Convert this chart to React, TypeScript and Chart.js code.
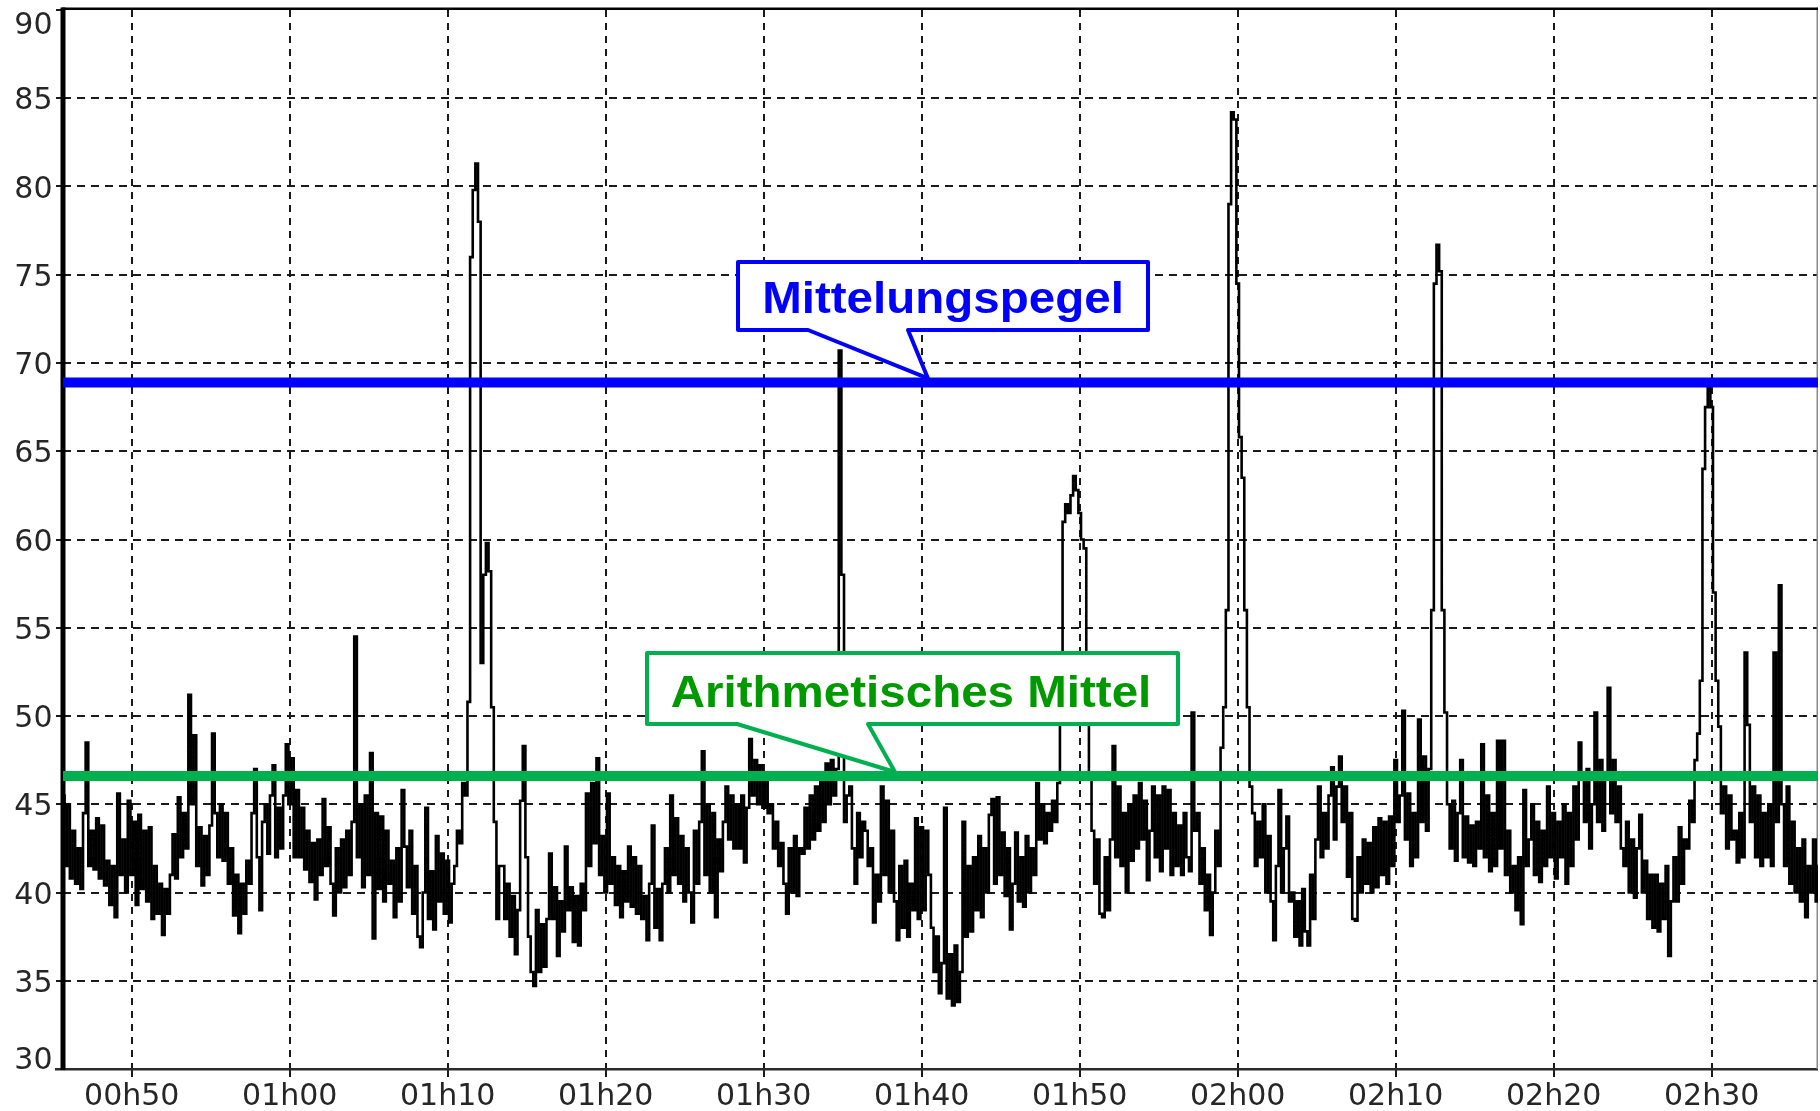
import React, { useEffect, useRef } from 'react';
import { Chart, registerables } from 'chart.js';

Chart.register(...registerables);

// ---- axes (time in minutes after midnight, level in dB) ----
const X_MIN = 45.65;
const X_MAX = 156.73;
const Y_MIN = 30;
const Y_MAX = 90;

const yTickValues = [30, 35, 40, 45, 50, 55, 60, 65, 70, 75, 80, 85, 90];
const xTickMinutes = [50, 60, 70, 80, 90, 100, 110, 120, 130, 140, 150];
const xTickLabels = ['00h50', '01h00', '01h10', '01h20', '01h30', '01h40', '01h50', '02h00', '02h10', '02h20', '02h30'];

// ---- reference levels ----
const MITTELUNGSPEGEL = 68.9;
const ARITHMETISCHES_MITTEL = 46.6;

// ---- sound level samples, one every 10 s, starting 00h45m30s ----
const SERIES_START = 45.5;
const SAMPLES_PER_MIN = 6;

const lp_0045 = [
  46.8, 45.5, 41.5, 45, 40.8, 43.5,
  40.5, 42.5, 40.2, 44.5, 48.5, 41.5,
  43.5, 41.3, 44.2, 40.8, 43.8, 40.4,
  41.8, 39.3, 41.5, 38.6, 45.6, 41,
  43, 40, 45.2, 41, 44, 39.3,
  44.4, 40.2, 43.5, 39.5, 43.7, 38.5,
  41.5, 38.8, 40.5, 37.6, 40.2, 38.8,
  41, 43.3, 40.8, 45.4, 42, 44.5,
  42.5, 51.2, 45, 48.9, 41.5, 43.7,
  40.4, 43.2, 41, 43.8, 49, 44.5,
];
const lp_0055 = [
  42, 45, 41.8, 44.5, 40.5, 42.5,
  38.7, 41, 37.7, 40.5, 38.8, 41.8,
  40.5, 44.5, 47, 42, 39, 44,
  45, 42.2, 45.5, 47.2, 42, 44.8,
  42.5, 45.5, 48.4, 45, 47.6, 42,
  45.8, 42, 44.8, 41.3, 43.5, 40.6,
  42.8, 39.6, 43, 41, 45.3, 41.5,
  43.7, 40.5, 38.7, 42.5, 40, 43,
  40.3, 43.5, 41, 44, 54.5, 42,
  45, 40.3, 45.5, 41, 47.9, 37.4,
];
const lp_0105 = [
  44.5, 40.2, 44.3, 39.5, 43.5, 40.5,
  41.8, 38.6, 42.5, 39.5, 45.8, 42.6,
  40.3, 43.5, 38.8, 41.5, 37.5, 36.9,
  40, 44.8, 38.5, 41.2, 37.9, 43.2,
  39.5, 42.2, 38.8, 41.8, 38.3, 40.5,
  41.5, 43.5, 42.8, 46.2, 45.5, 50.8,
  76, 79.8, 81.3, 78, 53, 58,
  59.8, 58.2, 50.5, 44, 38.5, 41.5,
  41.5, 38.5, 40.5, 37.5, 39.8, 36.5,
  39, 45.2, 48.3, 42, 37.5, 35.5,
];
const lp_0115 = [
  34.7, 39, 35.5, 38.2, 35.8, 38.5,
  42.2, 38.5, 40.3, 36.4, 39.5, 37.8,
  42.6, 39, 40.3, 37.2, 39.8, 37,
  40.5, 39, 45.6, 41.5, 46.2, 42.8,
  47.6, 41, 43.2, 40, 45.6, 40.5,
  42, 39.3, 41.5, 38.6, 41.2, 39.5,
  42.6, 39.2, 42, 38.8, 41.5, 38.5,
  39.8, 37.3, 40.5, 43.8, 38, 40.2,
  37.3, 40.5, 42.5, 40, 45.5, 41,
  44.2, 40.5, 43.2, 39.5, 42.5, 40,
];
const lp_0125 = [
  38.3, 43.5, 40.5, 44, 48, 41,
  45, 40, 44.5, 38.6, 43, 41.2,
  44, 46, 43, 45.5, 42.5, 45,
  42.5, 45.5, 41.7, 44.8, 48.7, 45.5,
  47.5, 45, 47.2, 44.8, 46.5, 44.5,
  45, 42.5, 44, 41.5, 42.8, 40.5,
  38.8, 42.5, 40, 43.2, 39.8, 42.5,
  42.2, 44.8, 42.5, 45.5, 43, 46,
  43.5, 46.8, 44, 47.3, 45, 47.5,
  45.5, 47, 70.7, 58, 44, 45.5,
];
const lp_0135 = [
  46, 42.5, 40.5, 44.5, 42, 44,
  43.5, 41.5, 42.5, 38.3, 41, 39.5,
  46, 41, 45.2, 40, 43.5, 39.5,
  37.3, 41.5, 38, 41.8, 37.5, 40.5,
  39, 44.2, 38.5, 43.7, 39, 43.5,
  41, 38, 35.5, 37.5, 34.3, 36,
  44.8, 34, 36.5, 33.6, 37, 33.8,
  35.5, 44, 37.5, 41.5, 37.8, 42,
  39, 43.2, 38.6, 42.5, 40, 44.4,
  45.3, 40.5, 45.4, 41, 43.4, 39.8,
];
const lp_0145 = [
  42.5, 37.9, 40.5, 43.4, 39.5, 42,
  39.2, 43.2, 40, 42.5, 41, 46.2,
  43, 45, 42.8, 44.5, 43.5, 45.2,
  44, 46.2, 50.5, 61, 62, 61.5,
  62.5, 63.6, 62.8, 61.5, 60, 59.5,
  50, 46.5, 43.5, 40.5, 43, 38.8,
  38.6, 42, 39, 43, 48.3, 42,
  46, 41.5, 44.5, 40, 45, 41.8,
  45.5, 42.5, 46.2, 43, 45.2, 40.7,
  43.5, 46, 42, 45.5, 41.2, 46,
];
const lp_0155 = [
  42.5, 45.8, 41, 44.5, 41.5, 43.8,
  41, 44.5, 42, 41.2, 50.2, 43.5,
  44.5, 40.5, 42.5, 39, 41, 37.6,
  40, 43.5, 41.5, 48.2, 50.5, 56,
  79, 84.2, 83.8, 74.5, 65.8, 63.5,
  56, 50.5, 46, 44.5, 41.5, 44,
  42, 45, 40, 43.2, 39.5, 37.3,
  41.5, 45.8, 40, 42.5, 44.3, 39.5,
  40, 37.5, 39.5, 37, 40.2, 37.8,
  37, 41, 38.5, 43, 46, 42,
];
const lp_0205 = [
  44.5, 42.5, 45.5, 47.1, 43, 46,
  47.7, 44, 46, 40.9, 44.5, 38.5,
  38.4, 42, 40, 43, 40.5, 42.8,
  40, 43.7, 40.3, 44.2, 41, 44,
  40.5, 44.3, 41.5, 47.5, 44, 45.5,
  50.3, 43, 45.6, 41.5, 44.5, 42,
  49.8, 44, 47.7, 43.5, 47, 56,
  74.5, 76.7, 75.2, 56, 50.2, 45,
  42.5, 45.2, 41.8, 44.5, 47.5, 42,
  44.3, 41.7, 43.8, 41.5, 44, 42.5,
];
const lp_0215 = [
  48.4, 42, 45.5, 41.2, 44.5, 41.5,
  48.6, 42.5, 48.6, 41, 43.5, 40,
  41.5, 39, 42, 38.2, 45.8, 41.5,
  43, 45, 41, 44, 40.6, 43.5,
  41.5, 46, 42, 44.5, 40.8, 44,
  42, 45, 40.5, 44.5, 41.5, 46,
  43, 48.5, 46.5, 44, 47, 42.5,
  45, 50.2, 44, 47.5, 43.5, 46.5,
  51.6, 44.5, 47.5, 44, 46, 42.5,
  41.5, 44, 40, 43, 39.7, 42.5,
];
const lp_0225 = [
  44.4, 40, 41.8, 38.5, 41, 38,
  41, 37.8, 40.5, 38.5, 41.5, 36.4,
  39.5, 42, 39.5, 43.7, 40.5, 43,
  42.5, 45.2, 44, 47.5, 49, 52,
  64, 67.5, 68.6, 67.5, 57, 52,
  49.4, 44.5, 46, 42.5, 45.5, 43,
  43.5, 41.7, 44.5, 42, 53.6, 49.5,
  44, 46, 42, 45.5, 41.5, 44.5,
  42, 45, 41.5, 53.6, 44, 57.4,
  45, 41.5, 46, 40.5, 44, 40,
];
const lp_0235 = [
  42.5, 39.5, 43, 38.6, 41.5, 40,
  43, 39.5, 41.5, 40, 42, 40,
];

// ---- styles ----
const LABEL_FONT = '30px "DejaVu Sans", Verdana, sans-serif';
const CALLOUT_FONT = 'bold 45px "Liberation Sans", Arial, sans-serif';
const GRID_COLOR = '#1a1a1a';

type Callout = {
  text: string;
  border: string;
  textColor: string;
  box: [number, number, number, number];
  base: [number, number];
  tipX: number;
  value: number;
  textX: number;
  baseline: number;
};

const calloutMittelungspegel: Callout = {
  text: 'Mittelungspegel',
  border: '#0000FF',
  textColor: '#0000FF',
  box: [738, 262, 1148, 330],
  base: [808, 908],
  tipX: 928,
  value: MITTELUNGSPEGEL,
  textX: 943,
  baseline: 313,
};

const calloutArithmetisch: Callout = {
  text: 'Arithmetisches Mittel',
  border: '#00B050',
  textColor: '#009A00',
  box: [647, 653, 1178, 724],
  base: [737, 868],
  tipX: 895,
  value: ARITHMETISCHES_MITTEL,
  textX: 911,
  baseline: 707,
};

function drawCallout(ctx: CanvasRenderingContext2D, c: Callout, tipY: number) {
  const [l, t, r, b] = c.box;
  ctx.save();
  ctx.beginPath();
  ctx.moveTo(l, t);
  ctx.lineTo(r, t);
  ctx.lineTo(r, b);
  ctx.lineTo(c.base[1], b);
  ctx.lineTo(c.tipX, tipY);
  ctx.lineTo(c.base[0], b);
  ctx.lineTo(l, b);
  ctx.closePath();
  ctx.fillStyle = '#ffffff';
  ctx.fill();
  ctx.lineWidth = 4;
  ctx.lineJoin = 'round';
  ctx.strokeStyle = c.border;
  ctx.stroke();
  ctx.font = CALLOUT_FONT;
  ctx.fillStyle = c.textColor;
  ctx.textAlign = 'center';
  ctx.textBaseline = 'alphabetic';
  ctx.translate(c.textX, c.baseline);
  ctx.scale(1.056, 1);
  ctx.fillText(c.text, 0, 0);
  ctx.restore();
}

const decorPlugin = {
  id: 'decor',
  beforeDatasetsDraw(chart: any) {
    const { ctx, chartArea: a } = chart;
    ctx.save();
    // bottom axis line
    ctx.fillStyle = '#2b2b2b';
    ctx.fillRect(a.left - 8, a.bottom - 1, a.right - a.left + 8, 2.5);
    // right border
    ctx.fillStyle = '#8a8a8a';
    ctx.fillRect(a.right - 1.5, a.top - 2.5, 1.5, a.bottom - a.top + 2.5);
    // top border
    ctx.fillStyle = '#000000';
    ctx.fillRect(a.left - 1, a.top - 2.5, a.right - a.left + 1, 2.5);
    // left axis (thick)
    ctx.fillRect(a.left - 2.5, a.top - 2.5, 5, a.bottom - a.top + 3.5);
    ctx.restore();
  },
  afterDraw(chart: any) {
    const { ctx, chartArea: a, scales } = chart;
    ctx.save();
    ctx.font = LABEL_FONT;
    ctx.fillStyle = '#262626';
    ctx.textBaseline = 'alphabetic';
    // y labels
    ctx.textAlign = 'right';
    yTickValues.forEach((v) => {
      const py = scales.y.getPixelForValue(v);
      const cy = Math.min(Math.max(py, a.top + 13), a.bottom - 11);
      ctx.fillText(String(v), 52.5, cy + 11);
    });
    // x labels
    ctx.textAlign = 'center';
    xTickMinutes.forEach((m, i) => {
      const px = scales.x.getPixelForValue(m);
      ctx.fillText(xTickLabels[i], px, a.bottom + 36);
    });
    ctx.restore();

    drawCallout(ctx, calloutMittelungspegel, scales.y.getPixelForValue(calloutMittelungspegel.value) - 4);
    drawCallout(ctx, calloutArithmetisch, scales.y.getPixelForValue(calloutArithmetisch.value) - 4);
  },
};

export default function App() {
  const ref = useRef<HTMLCanvasElement>(null);

  useEffect(() => {
    const canvas = ref.current;
    if (!canvas) return;

    const levels = [
      ...lp_0045, ...lp_0055, ...lp_0105, ...lp_0115, ...lp_0125, ...lp_0135,
      ...lp_0145, ...lp_0155, ...lp_0205, ...lp_0215, ...lp_0225, ...lp_0235,
    ];
    const trace = levels.map((v, i) => ({ x: SERIES_START + i / SAMPLES_PER_MIN, y: v }));
    const hLine = (v: number) => [{ x: X_MIN - 1, y: v }, { x: X_MAX + 1, y: v }];

    const chart = new Chart(canvas, {
      type: 'line',
      data: {
        datasets: [
          {
            data: trace,
            borderColor: '#000000',
            borderWidth: 2.6,
            borderJoinStyle: 'miter',
            stepped: 'middle',
            pointRadius: 0,
            fill: false,
            order: 3,
          },
          {
            data: hLine(ARITHMETISCHES_MITTEL),
            borderColor: '#00B050',
            borderWidth: 10,
            pointRadius: 0,
            fill: false,
            order: 2,
          },
          {
            data: hLine(MITTELUNGSPEGEL),
            borderColor: '#0000FF',
            borderWidth: 10,
            pointRadius: 0,
            fill: false,
            order: 1,
          },
        ],
      },
      options: {
        animation: false,
        responsive: false,
        devicePixelRatio: 1,
        events: [],
        layout: { padding: { top: 10, right: 2, left: 0, bottom: 0 } },
        plugins: { legend: { display: false }, tooltip: { enabled: false } },
        scales: {
          x: {
            type: 'linear',
            min: X_MIN,
            max: X_MAX,
            afterBuildTicks: (s: any) => {
              s.ticks = xTickMinutes.map((v) => ({ value: v }));
            },
            afterFit: (s: any) => {
              s.height = 42;
            },
            ticks: { display: false },
            grid: {
              color: GRID_COLOR,
              lineWidth: 2,
              drawTicks: true,
              tickLength: 8,
              tickWidth: 2,
              tickColor: GRID_COLOR,
            },
            border: { display: false, dash: [7, 6] },
          },
          y: {
            type: 'linear',
            min: Y_MIN,
            max: Y_MAX,
            afterBuildTicks: (s: any) => {
              s.ticks = yTickValues.map((v) => ({ value: v }));
            },
            afterFit: (s: any) => {
              s.width = 63;
            },
            ticks: { display: false },
            grid: {
              color: (c: any) =>
                c.tick && (c.tick.value === Y_MIN || c.tick.value === Y_MAX) ? 'rgba(0,0,0,0)' : GRID_COLOR,
              lineWidth: 2,
              drawTicks: true,
              tickLength: 7,
              tickWidth: 2,
              tickColor: GRID_COLOR,
            },
            border: { display: false, dash: [8, 6] },
          },
        },
      },
      plugins: [decorPlugin],
    } as any);

    return () => chart.destroy();
  }, []);

  return (
    <div style={{ position: 'fixed', left: 0, top: 0, width: 1820, height: 1111, background: '#ffffff' }}>
      <canvas ref={ref} width={1820} height={1111} style={{ display: 'block', width: 1820, height: 1111 }} />
    </div>
  );
}
